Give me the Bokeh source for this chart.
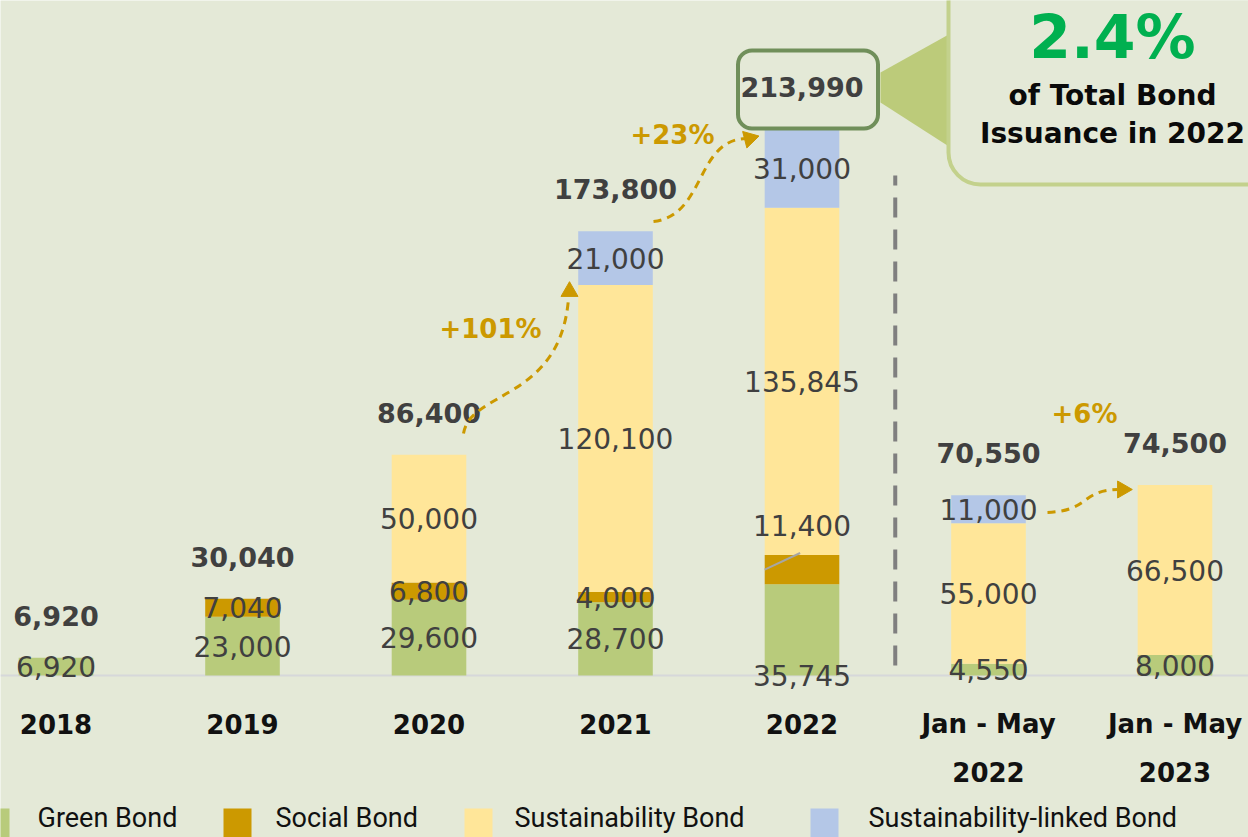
import math
from bokeh.plotting import figure
from bokeh.models import ColumnDataSource, Range1d
from bokeh.core.properties import value
from bokeh.embed import file_html
from bokeh.resources import INLINE

# ---------------- data ----------------
categories = ["2018", "2019", "2020", "2021", "2022", "Jan - May\n2022", "Jan - May\n2023"]
green = [6920, 23000, 29600, 28700, 35745, 4550, 8000]
social = [0, 7040, 6800, 4000, 11400, 0, 0]
sustainability = [0, 0, 50000, 120100, 135845, 55000, 66500]
sust_linked = [0, 0, 0, 21000, 31000, 11000, 0]
series_names = ["Green Bond", "Social Bond", "Sustainability Bond", "Sustainability-linked Bond"]
growth_labels = ["+101%", "+23%", "+6%"]
callout_value = "2.4%"
callout_lines = ["of Total Bond", "Issuance in 2022"]

# ---------------- style ----------------
colors = ["#B8CB7B", "#CC9900", "#FFE699", "#B4C7E7"]
BG = "#E4E9D7"
DARK = "#404040"
GOLD = "#CC9900"
NUMFONT = value("DejaVu Sans")
LEGFONT = value("Roboto")

W, H = 1248, 837
slot = 186.5
first_px = 55.5
base_px = 675
ypp = 213990 / 547.0

x0 = -first_px / slot
x1 = (W - first_px) / slot
y1 = base_px * ypp
y0 = -(H - base_px) * ypp


def PX(px):
    return x0 + px / slot


def PY(py):
    return (base_px - py) * ypp


p = figure(width=W, height=H, x_range=Range1d(x0, x1), y_range=Range1d(y0, y1),
           output_backend="svg", toolbar_location=None, min_border=0,
           x_axis_location=None, y_axis_location=None)
p.grid.visible = False
p.outline_line_color = None
p.background_fill_color = BG
p.border_fill_color = BG

n = len(categories)
xs = list(range(n))
stacks = [green, social, sustainability, sust_linked]
keys = ["green", "social", "sust", "sl"]
totals = [sum(s[i] for s in stacks) for i in range(n)]

# baseline
p.line([x0, x1], [0, 0], line_color="#D6D8DA", line_width=2)

src = ColumnDataSource(dict(x=xs, **{k: s for k, s in zip(keys, stacks)}))
p.vbar_stack(keys, x="x", width=0.4, fill_color=colors, line_color=None, source=src)

# segment labels
lx, ly, lt = [], [], []
for i in range(n):
    cum = 0
    for k, s in enumerate(stacks):
        v = s[i]
        if v > 0:
            y = cum + v / 2
            if i == 4 and k == 0:
                y = 0  # label sits at base
            elif i == 4 and k == 1:
                y = cum + v + 29 * ypp  # label above thin segment
            lx.append(i)
            ly.append(y)
            lt.append(f"{v:,}")
        cum += v
p.text(lx, ly, text=lt, text_align="center", text_baseline="middle",
       text_font=NUMFONT, text_font_size="28px", text_color=DARK)

# leader line for 2022 social label
soc_mid = green[4] + social[4] / 2
p.line([4 - 0.2, 4 - 0.01], [soc_mid, green[4] + social[4] + 2 * ypp],
       line_color="#A6A6A6", line_width=2)

# totals
tx = [i for i in range(n)]
ty = [totals[i] + 42 * ypp for i in range(n)]
tt = [f"{t:,}" for t in totals]

# rounded box around 2022 total
p.quad(left=[4 + (737 - 801) / slot], right=[4 + (877 - 801) / slot],
       bottom=[totals[4]], top=[totals[4] + 78 * ypp],
       fill_color=BG, line_color="#708F5A", line_width=4, border_radius=14)

p.text(tx, ty, text=tt, text_align="center", text_baseline="middle",
       text_font=NUMFONT, text_font_style="bold", text_font_size="27px", text_color=DARK)

# x category labels
line1 = [c.split("\n")[0] for c in categories]
line2 = [c.split("\n")[1] if "\n" in c else "" for c in categories]
p.text(xs, [PY(723)] * n, text=line1, text_align="center", text_baseline="middle",
       text_font=NUMFONT, text_font_style="bold", text_font_size="26px", text_color="#111111")
p.text(xs, [PY(771)] * n, text=line2, text_align="center", text_baseline="middle",
       text_font=NUMFONT, text_font_style="bold", text_font_size="26px", text_color="#111111")

# dashed separator between annual and YTD
p.line([4.5, 4.5], [PY(665), PY(175)], line_color="#7F7F7F", line_width=4, line_dash="20 12")

# growth arrows (dashed curves)
curves = [
    ((463, 433), (470, 390), (560, 400), (568, 298)),
    ((653, 221), (705, 215), (695, 140), (745, 138)),
    ((1047, 512), (1090, 510), (1080, 490), (1117, 489)),
]
for c in curves:
    (a, b), (c1x, c1y), (c2x, c2y), (d, e) = c
    p.bezier(x0=[PX(a)], y0=[PY(b)], x1=[PX(d)], y1=[PY(e)],
             cx0=[PX(c1x)], cy0=[PY(c1y)], cx1=[PX(c2x)], cy1=[PY(c2y)],
             line_color=GOLD, line_width=3, line_dash="8 6")
heads = [((569, 291), 0.0), ((749, 138), -math.pi / 2 + 0.25), ((1122, 489), -math.pi / 2)]
p.scatter([PX(h[0][0]) for h in heads], [PY(h[0][1]) for h in heads], marker="triangle",
          size=17, angle=[h[1] for h in heads], fill_color=GOLD, line_color=GOLD)
gpos = [(490, 328), (672, 134), (1084, 413)]
p.text([PX(g[0]) for g in gpos], [PY(g[1]) for g in gpos], text=growth_labels,
       text_align="center", text_baseline="middle", text_font=NUMFONT,
       text_font_style="bold", text_font_size="26px", text_color=GOLD)

# callout
p.patch([PX(880), PX(950), PX(950), PX(880)], [PY(72), PY(33), PY(147), PY(102)],
        fill_color="#BCCB7A", line_color=None)
p.quad(left=[PX(948)], right=[PX(1320)], bottom=[PY(184)], top=[PY(-40)],
       fill_color=BG, line_color="#C3D18C", line_width=4, border_radius=32)
p.text([PX(1112)], [PY(36)], text=[callout_value], text_align="center", text_baseline="middle",
       text_font=NUMFONT, text_font_style="bold", text_font_size="60px", text_color="#00B050")
p.text([PX(1112)] * 2, [PY(95), PY(133)], text=callout_lines, text_align="center",
       text_baseline="middle", text_font=NUMFONT, text_font_style="bold",
       text_font_size="28px", text_color="#0A0A0A")

# legend (manual)
sq_left = [-19, 223, 464, 810]
txt_left = [37, 275, 514, 868]
p.quad(left=[PX(a) for a in sq_left], right=[PX(a + 28) for a in sq_left],
       bottom=[PY(850)] * 4, top=[PY(808)] * 4, fill_color=colors, line_color=None)
p.text([PX(a) for a in txt_left], [PY(817)] * 4, text=series_names, text_align="left",
       text_baseline="middle", text_font=LEGFONT, text_font_size="27px", text_color="#111111")

open("out.html", "w").write(file_html(p, INLINE))
